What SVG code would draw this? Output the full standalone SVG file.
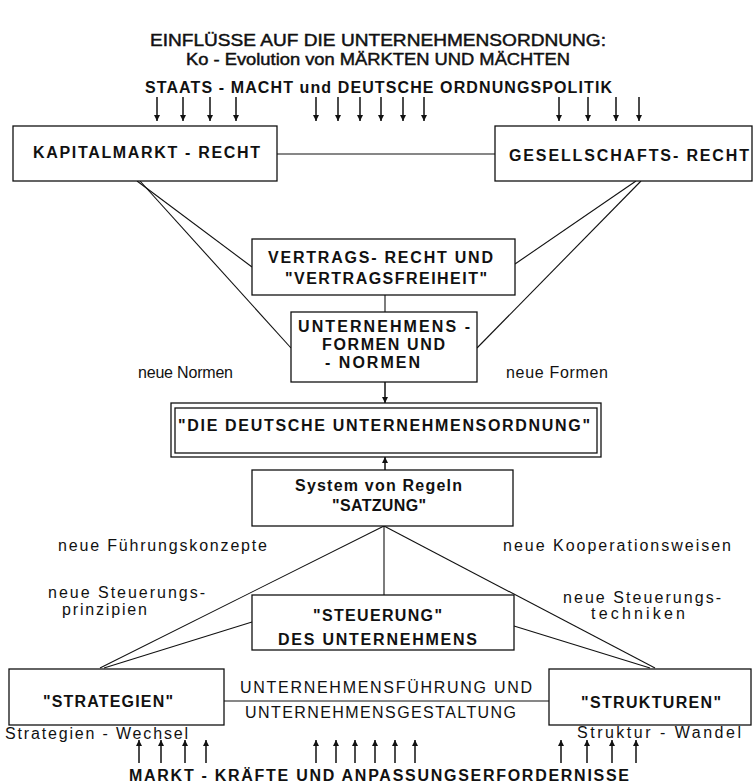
<svg xmlns="http://www.w3.org/2000/svg" width="756" height="784" viewBox="0 0 756 784">
<defs>
<marker id="ah" viewBox="0 0 10 10" refX="10" refY="5" markerWidth="8" markerHeight="6" markerUnits="userSpaceOnUse" orient="auto">
<path d="M0,0 L10,5 L0,10 Z" fill="#111"/>
</marker>
<style>
text{font-family:"Liberation Sans",Arial,sans-serif;fill:#111}
.t{font-size:16.5px;stroke:#111;stroke-width:0.45}
.h{font-size:16px;font-weight:bold}
.b{font-size:16px;font-weight:bold}
.r{font-size:16px}
.box{fill:#fff;stroke:#111;stroke-width:1.3}
.ln{fill:none;stroke:#111;stroke-width:1.1}
.ar{fill:none;stroke:#111;stroke-width:1.5;marker-end:url(#ah)}
</style>
</defs>
<rect width="756" height="784" fill="#fff"/>
<g id="title">
<text class="t" x="150" y="46" textLength="456" lengthAdjust="spacingAndGlyphs">EINFLÜSSE AUF DIE UNTERNEHMENSORDNUNG:</text>
<text class="t" x="186" y="65" textLength="384" lengthAdjust="spacingAndGlyphs">Ko - Evolution von MÄRKTEN UND MÄCHTEN</text>
</g>
<g id="staatsmacht">
<text class="h" x="145" y="93" textLength="467" lengthAdjust="spacing">STAATS - MACHT und DEUTSCHE ORDNUNGSPOLITIK</text>
</g>
<g id="connectors">
<line class="ln" x1="277" y1="154" x2="495" y2="154"/>
<line class="ln" x1="137" y1="181" x2="252" y2="267"/>
<line class="ln" x1="140" y1="181" x2="291" y2="348"/>
<line class="ln" x1="636" y1="181" x2="515" y2="264"/>
<line class="ln" x1="641" y1="181" x2="477" y2="348"/>
<line class="ln" x1="385" y1="295" x2="385" y2="312"/>
<line class="ar" x1="385" y1="382" x2="385" y2="403"/>
<line class="ar" x1="385" y1="470" x2="385" y2="457"/>
<line class="ln" x1="384" y1="526" x2="100" y2="668"/>
<line class="ln" x1="384" y1="526" x2="384" y2="595"/>
<line class="ln" x1="384" y1="526" x2="655" y2="668"/>
<line class="ln" x1="104" y1="668" x2="252" y2="622"/>
<line class="ln" x1="514" y1="626" x2="650" y2="668"/>
<line class="ln" x1="224" y1="701" x2="549" y2="701"/>
<g id="down-arrows">
<line class="ar" x1="157" y1="97" x2="157" y2="121"/>
<line class="ar" x1="183" y1="97" x2="183" y2="121"/>
<line class="ar" x1="210" y1="97" x2="210" y2="121"/>
<line class="ar" x1="236" y1="97" x2="236" y2="121"/>
<line class="ar" x1="316" y1="97" x2="316" y2="121"/>
<line class="ar" x1="338" y1="97" x2="338" y2="121"/>
<line class="ar" x1="360" y1="97" x2="360" y2="121"/>
<line class="ar" x1="381" y1="97" x2="381" y2="121"/>
<line class="ar" x1="403" y1="97" x2="403" y2="121"/>
<line class="ar" x1="424" y1="97" x2="424" y2="121"/>
<line class="ar" x1="559" y1="97" x2="559" y2="121"/>
<line class="ar" x1="588" y1="97" x2="588" y2="121"/>
<line class="ar" x1="616" y1="97" x2="616" y2="121"/>
<line class="ar" x1="639" y1="97" x2="639" y2="121"/>
</g>
<g id="up-arrows">
<line class="ar" x1="139" y1="763" x2="139" y2="740"/>
<line class="ar" x1="161" y1="763" x2="161" y2="740"/>
<line class="ar" x1="185" y1="763" x2="185" y2="740"/>
<line class="ar" x1="206" y1="763" x2="206" y2="740"/>
<line class="ar" x1="316" y1="763" x2="316" y2="740"/>
<line class="ar" x1="336" y1="763" x2="336" y2="740"/>
<line class="ar" x1="355" y1="763" x2="355" y2="740"/>
<line class="ar" x1="375" y1="763" x2="375" y2="740"/>
<line class="ar" x1="395" y1="763" x2="395" y2="740"/>
<line class="ar" x1="415" y1="763" x2="415" y2="740"/>
<line class="ar" x1="561" y1="763" x2="561" y2="740"/>
<line class="ar" x1="587" y1="763" x2="587" y2="740"/>
<line class="ar" x1="612" y1="763" x2="612" y2="740"/>
<line class="ar" x1="636" y1="763" x2="636" y2="740"/>
</g>
</g>
<g id="kapitalmarkt">
<rect class="box" x="13" y="126" width="264" height="55"/>
<text class="b" x="33" y="158" textLength="227" lengthAdjust="spacing">KAPITALMARKT - RECHT</text>
</g>
<g id="gesellschaft">
<rect class="box" x="495" y="126" width="257" height="55"/>
<text class="b" x="509" y="161" textLength="240" lengthAdjust="spacing">GESELLSCHAFTS- RECHT</text>
</g>
<g id="vertrag">
<rect class="box" x="252" y="239" width="263" height="56"/>
<text class="b" x="268" y="263" textLength="225" lengthAdjust="spacing">VERTRAGS- RECHT UND</text>
<text class="b" x="285" y="284" textLength="202" lengthAdjust="spacing">"VERTRAGSFREIHEIT"</text>
</g>
<g id="unternehmensformen">
<rect class="box" x="291" y="312" width="186" height="70"/>
<text class="b" x="298" y="332" textLength="172" lengthAdjust="spacing">UNTERNEHMENS -</text>
<text class="b" x="322" y="350" textLength="123" lengthAdjust="spacing">FORMEN UND</text>
<text class="b" x="325" y="368" textLength="95" lengthAdjust="spacing">- NORMEN</text>
</g>
<g id="labels-mid">
<text class="r" x="138" y="378" textLength="95" lengthAdjust="spacing">neue Normen</text>
<text class="r" x="506" y="378" textLength="102" lengthAdjust="spacing">neue Formen</text>
</g>
<g id="ordnung">
<rect class="box" x="171" y="403" width="430" height="54"/>
<rect class="box" x="175" y="408" width="422" height="45"/>
<text class="b" x="178" y="431" textLength="412" lengthAdjust="spacing">"DIE DEUTSCHE UNTERNEHMENSORDNUNG"</text>
</g>
<g id="satzung">
<rect class="box" x="252" y="470" width="261" height="56"/>
<text class="b" x="295" y="491" textLength="167" lengthAdjust="spacing">System von Regeln</text>
<text class="b" x="332" y="511" textLength="94" lengthAdjust="spacing">"SATZUNG"</text>
</g>
<g id="labels-low">
<text class="r" x="58" y="551" textLength="209" lengthAdjust="spacing">neue Führungskonzepte</text>
<text class="r" x="503" y="551" textLength="228" lengthAdjust="spacing">neue Kooperationsweisen</text>
<text class="r" x="48" y="598" textLength="157" lengthAdjust="spacing">neue Steuerungs-</text>
<text class="r" x="62" y="615" textLength="85" lengthAdjust="spacing">prinzipien</text>
<text class="r" x="563" y="603" textLength="158" lengthAdjust="spacing">neue Steuerungs-</text>
<text class="r" x="591" y="619" textLength="94" lengthAdjust="spacing">techniken</text>
</g>
<g id="steuerung">
<rect class="box" x="252" y="595" width="262" height="55"/>
<text class="b" x="313" y="621" textLength="129" lengthAdjust="spacing">"STEUERUNG"</text>
<text class="b" x="278" y="645" textLength="199" lengthAdjust="spacing">DES UNTERNEHMENS</text>
</g>
<g id="strategien">
<rect class="box" x="9" y="669" width="215" height="56"/>
<text class="b" x="43" y="707" textLength="130" lengthAdjust="spacing">"STRATEGIEN"</text>
</g>
<g id="strukturen">
<rect class="box" x="549" y="669" width="202" height="56"/>
<text class="b" x="581" y="708" textLength="140" lengthAdjust="spacing">"STRUKTUREN"</text>
</g>
<g id="labels-bottom">
<text class="r" x="240" y="693" textLength="292" lengthAdjust="spacing">UNTERNEHMENSFÜHRUNG UND</text>
<text class="r" x="245" y="718" textLength="271" lengthAdjust="spacing">UNTERNEHMENSGESTALTUNG</text>
<text class="r" x="5" y="739" textLength="183" lengthAdjust="spacing">Strategien - Wechsel</text>
<text class="r" x="577" y="738" textLength="164" lengthAdjust="spacing">Struktur - Wandel</text>
</g>
<g id="marktkraefte">
<text class="h" x="129" y="781" textLength="500" lengthAdjust="spacing">MARKT - KRÄFTE UND ANPASSUNGSERFORDERNISSE</text>
</g>
</svg>
